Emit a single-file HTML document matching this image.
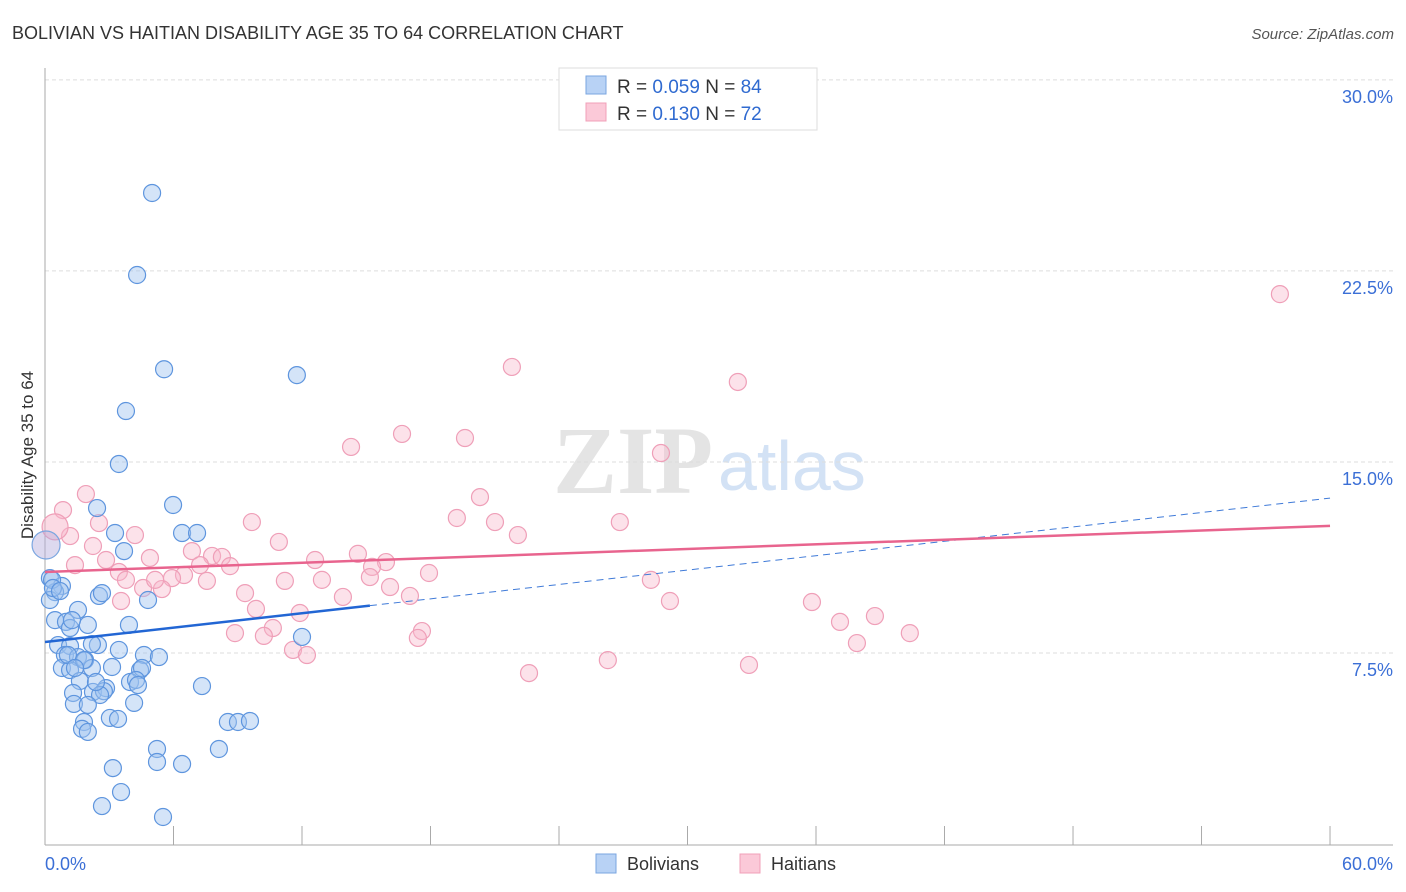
<!DOCTYPE html>
<html><head><meta charset="utf-8"><style>
body{margin:0;background:#fff;font-family:"Liberation Sans",sans-serif}
svg{display:block}
</style></head><body>
<svg id="c" width="1406" height="892">
<text x="12" y="39" font-size="18" fill="#333">BOLIVIAN VS HAITIAN DISABILITY AGE 35 TO 64 CORRELATION CHART</text>
<text x="1394" y="39" font-size="15" fill="#555" font-style="italic" text-anchor="end">Source: ZipAtlas.com</text>
<g>
<text x="553" y="493" font-size="96" fill="#e4e4e4" font-family="Liberation Serif,serif" font-weight="bold">ZIP</text>
<text x="718" y="490" font-size="70" fill="#d3e2f5">atlas</text>
</g>
<text transform="translate(33,455) rotate(-90)" font-size="17" fill="#333" text-anchor="middle">Disability Age 35 to 64</text>
<g id="grid"></g><g id="pts"></g><g id="trend"></g>
<g>
<rect x="559" y="68" width="258" height="62" fill="#fff" stroke="#ddd"/>
<rect x="586" y="76" width="20" height="18" fill="#b8d2f5" stroke="#7aa6e0"/>
<rect x="586" y="103" width="20" height="18" fill="#fbc9d8" stroke="#f0a0b8"/>
<text x="617" y="93" font-size="19" fill="#333">R = <tspan fill="#2f6ad0">0.059</tspan>   N = <tspan fill="#2f6ad0">84</tspan></text>
<text x="617" y="120" font-size="19" fill="#333">R =  <tspan fill="#2f6ad0">0.130</tspan>   N = <tspan fill="#2f6ad0">72</tspan></text>
</g>
<g>
<rect x="596" y="854" width="20" height="19" fill="#b8d2f5" stroke="#7aa6e0"/>
<text x="627" y="870" font-size="18" fill="#333">Bolivians</text>
<rect x="740" y="854" width="20" height="19" fill="#fbc9d8" stroke="#f0a0b8"/>
<text x="771" y="870" font-size="18" fill="#333">Haitians</text>
</g>
</svg>
<script>
const blueX=[5.0,4.3,5.56,11.76,3.78,3.45,2.43,5.98,3.27,6.4,7.1,3.69,0.23,0.79,0.47,0.23,2.52,2.66,4.81,1.54,0.47,0.98,1.17,2.0,3.92,12.0,0.61,1.17,2.47,2.19,3.45,4.62,5.32,0.93,1.54,1.87,0.79,1.17,2.19,3.13,4.44,4.53,1.63,3.97,4.25,4.34,7.33,1.31,2.24,2.85,2.75,2.57,1.35,4.16,1.82,3.03,3.41,8.54,9.01,9.57,1.73,2.0,5.23,8.12,5.23,6.4,3.17,3.55,2.66,5.51,0.33,0.37,0.7,1.26,1.07,2.38,2.0,1.82,1.4];
const blueY=[25.56,22.34,18.64,18.41,17.0,14.92,13.19,13.31,12.21,12.21,12.21,11.5,10.44,10.13,9.89,9.58,9.74,9.85,9.58,9.19,8.79,8.72,8.48,8.6,8.6,8.13,7.81,7.77,7.81,7.85,7.62,7.42,7.34,7.42,7.34,7.22,6.91,6.83,6.91,6.95,6.83,6.91,6.4,6.36,6.44,6.24,6.2,5.93,5.97,6.12,6.0,5.85,5.5,5.54,4.79,4.95,4.91,4.79,4.79,4.83,4.52,4.4,3.73,3.73,3.22,3.14,2.98,2.04,1.49,1.06,10.37,10.05,9.93,8.79,7.42,6.36,5.46,7.22,6.91];
const pinkX=[57.66,21.8,32.35,16.67,19.61,14.29,28.76,1.91,20.31,0.84,19.23,26.84,21.01,2.52,9.66,22.08,1.17,4.2,10.92,2.24,14.61,12.61,4.9,6.86,7.8,8.26,15.92,7.24,8.64,2.85,1.4,15.27,3.45,6.49,5.93,17.93,3.78,11.2,12.93,15.17,7.56,16.11,9.34,4.58,5.46,5.14,13.91,17.04,28.29,29.18,35.81,3.55,9.85,11.9,38.75,37.12,17.6,10.64,8.87,10.22,40.38,17.41,37.91,11.58,12.23,26.28,32.87,22.6];
const pinkY=[21.59,18.73,18.14,16.1,15.94,15.59,15.35,13.74,13.62,13.11,12.8,12.64,12.64,12.6,12.64,12.13,12.09,12.13,11.86,11.7,11.39,11.15,11.23,11.5,11.31,11.27,11.07,10.95,10.91,11.15,10.95,10.88,10.68,10.56,10.44,10.64,10.37,10.33,10.37,10.48,10.33,10.09,9.85,10.05,10.01,10.37,9.7,9.74,10.37,9.54,9.5,9.54,9.23,9.07,8.95,8.72,8.36,8.48,8.28,8.17,8.28,8.09,7.89,7.62,7.42,7.22,7.03,6.71];
const bigBlue=[0.05,11.74], bigPink=[0.47,12.45];
const yTicks=[7.5,15,22.5,30];
const yTickLabels=["7.5%","15.0%","22.5%","30.0%"];
const blueTrend=[7.93,13.58], blueSolidEnd=15.17;
const pinkTrend=[10.68,12.49];
const NS="http://www.w3.org/2000/svg";
const X=v=>45+v*21.417, Y=v=>844-v*25.47;
function mk(t,a,p){const e=document.createElementNS(NS,t);for(const k in a)e.setAttribute(k,a[k]);p.appendChild(e);return e;}
const grid=document.getElementById('grid');
yTicks.forEach((t,i)=>{
 const l=mk('line',{x1:45,x2:1393,y1:Y(t),y2:Y(t),stroke:'#ddd','stroke-dasharray':'4,3'},grid);
 
 
 const tx=mk('text',{x:1393,y:Y(t)+23,'font-size':18,fill:'#3b6fd6','text-anchor':'end'},grid);
 tx.textContent=yTickLabels[i];
 
 
});
mk('line',{x1:45,x2:45,y1:68,y2:845,stroke:'#aaa'},grid);
mk('line',{x1:45,x2:1393,y1:845,y2:845,stroke:'#aaa'},grid);
for(let i=0;i<=10;i++){const t=mk('line',{x1:X(i*6),x2:X(i*6),y1:826,y2:845,stroke:'#aaa'},grid);
 
 }
[[0,"0.0%",'start',45],[60,"60.0%",'end',1393]].forEach(d=>{const t=mk('text',{x:d[3],y:870,'font-size':18,fill:'#3b6fd6','text-anchor':d[2]},grid);t.textContent=d[1];
 
 });
const pts=document.getElementById('pts');
function dot(x,y,r,f,s,n){const c=mk('circle',{cx:X(x),cy:Y(y),r:r,fill:f,stroke:s,'stroke-width':1.2},pts);
 
 }
pinkX.forEach((x,i)=>dot(x,pinkY[i],8.5,'rgba(248,182,202,0.4)','#ef9fb8','haitian-point'));
dot(bigPink[0],bigPink[1],13,'rgba(248,182,202,0.5)','#ef9fb8','haitian-point');
blueX.forEach((x,i)=>dot(x,blueY[i],8.5,'rgba(160,196,240,0.45)','#5e95de','bolivian-point'));
dot(bigBlue[0],bigBlue[1],14,'rgba(180,170,220,0.45)','#7aa6e0','bolivian-point');
const tr=document.getElementById('trend');
const by=x=>blueTrend[0]+(blueTrend[1]-blueTrend[0])*x/60;
const py=x=>pinkTrend[0]+(pinkTrend[1]-pinkTrend[0])*x/60;
let l=mk('line',{x1:X(blueSolidEnd),y1:Y(by(blueSolidEnd)),x2:X(60),y2:Y(by(60)),stroke:'#3f7ad8','stroke-width':1,'stroke-dasharray':'7,5'},tr);


l=mk('line',{x1:X(0),y1:Y(by(0)),x2:X(blueSolidEnd),y2:Y(by(blueSolidEnd)),stroke:'#2266d4','stroke-width':2.5},tr);


l=mk('line',{x1:X(0),y1:Y(py(0)),x2:X(60),y2:Y(py(60)),stroke:'#e8648e','stroke-width':2.5},tr);


</script>
</body></html>
